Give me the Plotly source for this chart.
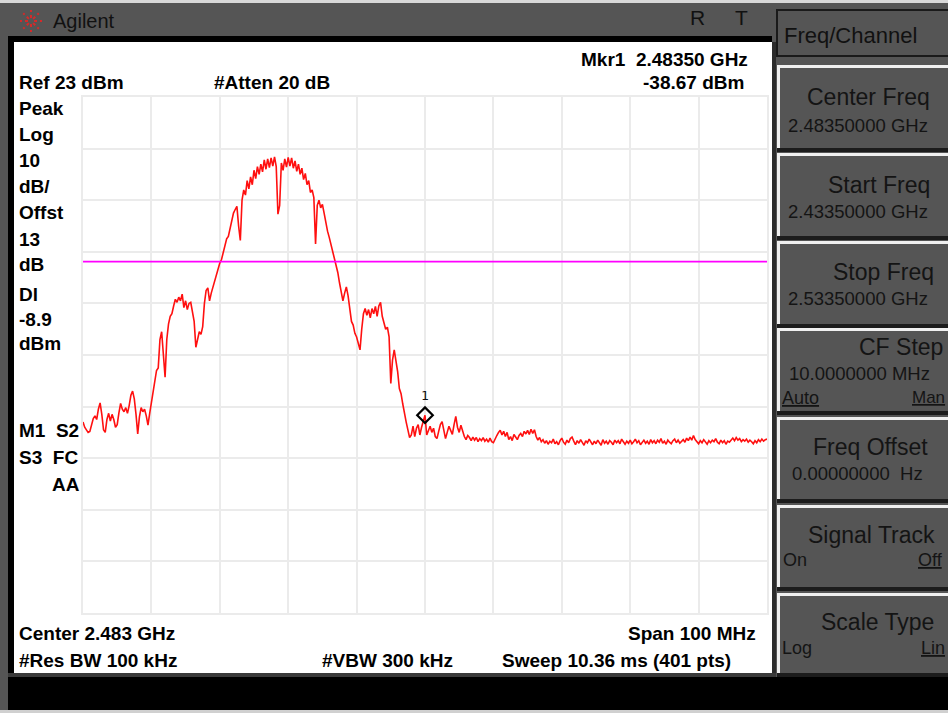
import numpy as np
import plotly.graph_objects as go

START_GHZ = 2.4335
STOP_GHZ = 2.5335
REF_DBM = 23
DB_PER_DIV = 10
N_DIV = 10
DISPLAY_LINE_DBM = -8.9
MKR_FREQ_GHZ = 2.4835
MKR_LEVEL_DBM = -38.67

# trace 1, 401 sweep points (dBm)
level_dbm = [
    -40.0, -41.0, -41.5, -42.0, -41.8, -40.5, -39.3, -38.8, -39.5, -37.5,
    -36.3, -38.5, -41.5, -42.0, -39.5, -38.3, -39.8, -38.5, -39.5, -41.0,
    -40.5, -38.2, -36.4, -37.5, -38.0, -37.2, -38.3, -36.8, -34.8, -34.0,
    -35.5, -38.5, -42.3, -39.0, -37.2, -38.0, -37.5, -38.8, -40.6, -38.3,
    -36.0, -34.0, -32.0, -30.0, -29.5, -24.0, -22.5, -27.5, -31.3, -24.0,
    -21.0, -19.5, -19.0, -17.5, -16.2, -16.8, -15.8, -16.5, -15.2, -17.8,
    -16.5, -18.2, -17.0, -16.8, -19.0, -20.5, -25.5, -24.0, -22.5, -23.0,
    -21.5, -17.0, -14.5, -14.0, -16.5, -15.0, -13.8, -12.5, -11.8, -10.5,
    -9.2, -8.5, -7.2, -6.0, -4.5, -4.0, -2.5, -0.8, 0.5, 1.2,
    1.8, -2.0, -4.8, 3.0, 5.0, 4.0, 6.8, 5.2, 7.5, 6.0,
    8.8, 7.2, 9.5, 8.0, 10.0, 8.5, 10.8, 9.0, 11.0, 9.3,
    11.2, 9.6, 11.4, 9.5, 0.3, 2.0, 10.2, 8.8, 11.0, 9.4,
    11.3, 9.6, 11.2, 9.2, 10.6, 8.6, 10.0, 8.0, 9.2, 7.0,
    8.2, 6.0, 6.8, 4.5, 5.0, 3.5, -5.5, 2.0, 3.0, 1.5,
    2.2, 0.5, -1.5, -3.0, -4.2, -5.5, -7.2, -8.5, -9.8, -11.0,
    -13.0, -14.5, -16.5, -15.0, -13.8, -15.5, -18.0, -20.5, -21.2, -22.8,
    -23.5, -24.8, -26.0, -22.0, -19.0, -18.0, -19.3, -18.2, -19.8, -18.0,
    -19.0, -17.6, -19.5, -17.5, -16.8, -19.5, -20.8, -22.0, -21.6, -23.5,
    -32.5, -28.0, -26.0, -27.8, -30.2, -33.5, -34.5, -36.5, -38.5, -40.0,
    -41.5, -43.0, -42.5, -40.8, -42.8, -41.2, -40.5, -42.5, -41.0, -39.5,
    -38.67, -42.5, -41.5, -40.8, -42.0, -41.2, -42.8, -43.2, -41.8, -40.5,
    -39.9, -42.0, -43.2, -42.0, -40.8, -41.6, -42.4, -40.5, -38.9, -41.0,
    -42.0, -40.6, -41.8, -42.8, -43.4, -42.6, -43.0, -43.6, -42.9, -43.5,
    -43.0, -43.8, -43.2, -43.6, -43.0, -43.7, -43.3, -43.9, -43.1, -43.8,
    -44.0, -43.2, -42.6, -42.0, -41.6, -42.5, -41.8, -42.8, -42.0, -43.4,
    -42.8, -43.6, -42.4, -42.9, -43.4, -42.6, -42.2, -42.8, -41.8, -42.3,
    -41.6, -42.4, -41.4, -42.2, -41.5, -42.8, -43.5, -43.0, -43.8, -43.4,
    -44.1, -43.6, -44.3, -43.7, -44.0, -43.3, -44.2, -43.8, -44.4, -43.6,
    -43.1, -43.9, -44.3, -43.5, -44.0, -43.2, -42.9, -43.7, -44.4, -43.6,
    -44.1, -43.4, -43.9, -44.5, -43.6, -44.0, -43.3, -43.9, -44.4, -43.7,
    -44.2, -43.5, -43.9, -44.5, -43.4, -44.1, -43.7, -44.3, -43.6, -43.9,
    -44.4, -43.5, -44.0, -43.6, -44.2, -43.3, -43.8, -44.3, -43.7, -44.1,
    -43.5, -44.2, -43.8, -43.3, -44.0, -43.6, -44.4, -43.9, -43.5, -44.1,
    -43.7, -44.3, -43.4, -44.0, -43.6, -44.2, -43.5, -43.9, -43.2, -44.1,
    -43.7, -44.3, -43.5, -43.9, -44.2, -43.6, -43.3, -44.0, -43.5, -44.1,
    -43.8, -43.4, -43.9, -43.1, -43.6, -42.9, -43.5, -42.6, -43.4, -43.8,
    -44.2, -43.6, -44.0, -43.4, -43.9, -44.3, -43.6, -44.0, -43.5, -43.8,
    -43.2, -43.9, -44.2, -43.5, -44.0, -43.6, -44.3, -43.7, -43.9, -43.4,
    -43.1, -43.6, -43.0, -43.5, -43.2, -43.8, -43.4, -43.7, -43.3, -43.9,
    -43.5, -43.8, -44.2, -43.6, -44.0, -43.4, -43.8, -43.3, -43.7, -43.4,
    -43.3,
]
freq_ghz = np.linspace(START_GHZ, STOP_GHZ, len(level_dbm))

left_labels = [("Peak", 108), ("Log", 134), ("10", 160), ("dB/", 186),
               ("Offst", 213), ("13", 239), ("dB", 264), ("Dl", 294),
               ("-8.9", 319), ("dBm", 343), ("M1  S2", 430), ("S3  FC", 457)]

# ---------------- geometry helpers ----------------
W, H = 948, 713
L, R, T, B = 83, 767, 97, 613


def px(x):
    return (x - L) / (R - L)


def py(y):
    return (B - y) / (B - T)


shapes = []
annotations = []


def rect(x0, y0, x1, y1, fill, line=None, lw=0, layer="below"):
    shapes.append(dict(type="rect", xref="paper", yref="paper",
                       x0=px(x0), x1=px(x1), y0=py(y1), y1=py(y0),
                       fillcolor=fill, layer=layer,
                       line=dict(width=lw, color=line or fill)))


def seg(x0, y0, x1, y1, color, w, dash="solid", layer="above"):
    shapes.append(dict(type="line", xref="paper", yref="paper",
                       x0=px(x0), x1=px(x1), y0=py(y0), y1=py(y1),
                       line=dict(color=color, width=w, dash=dash), layer=layer))


SCR_FONT = "Liberation Sans, Arial, sans-serif"


def txt(s, x, y, size=19, anchor="left", color="#000000", bold=True, family=SCR_FONT):
    annotations.append(dict(
        text=("<b>%s</b>" % s) if bold else s,
        x=px(x), y=py(y), xref="paper", yref="paper",
        xanchor=anchor, yanchor="middle", showarrow=False,
        font=dict(size=size, color=color, family=family), borderpad=0))


# ---------------- frame ----------------
rect(0, 0, W, 3, "#d8d8d8")
rect(8, 36, 772, 42, "#000000")
rect(8, 36, 14, 677, "#000000")
rect(14, 42, 772, 673, "#ffffff")
rect(772, 42, 776, 677, "#2b2b2b")
rect(8, 673, 776, 677, "#3a3a3a")
rect(8, 677, W, 710, "#000000")
rect(0, 710, W, H, "#d0d0d0")

# logo: red dotted starburst
cx, cy = 31, 21
for k in range(8):
    a = np.pi * k / 4
    seg(cx + 3 * np.cos(a), cy + 3 * np.sin(a), cx + 11 * np.cos(a), cy + 11 * np.sin(a),
        "#d42a2a", 2, dash="dot")

txt("Agilent", 52, 21, size=20, bold=False, color="#111111")
txt("R", 697, 18, size=21, anchor="center", bold=False, color="#111111")
txt("T", 741, 18, size=21, anchor="center", bold=False, color="#111111")

# ---------------- right soft-key panel ----------------
rect(777, 10, 960, 56, "#555555", line="#1a1a1a", lw=2)
txt("Freq/Channel", 783, 35, size=22, bold=False, color="#111111")

buttons = [(65, 148), (153, 236), (241, 324), (328, 411), (417, 499), (505, 587), (593, 673)]
for (y0, y1) in buttons:
    rect(777, y0, 960, y1, "#555555")
    rect(777, y0, 960, y0 + 3, "#f0f0f0")
    rect(777, y0, 780, y1, "#f0f0f0")
    rect(777, y1, 960, y1 + 4, "#1c1c1c")

PF = "Liberation Sans, Arial, sans-serif"
PC = "#141414"
txt("Center Freq", 931, 97, size=23, anchor="right", bold=False, color=PC, family=PF)
txt("2.48350000 GHz", 787, 125, size=18.5, bold=False, color=PC, family=PF)
txt("Start Freq", 931, 185, size=23, anchor="right", bold=False, color=PC, family=PF)
txt("2.43350000 GHz", 787, 212, size=18.5, bold=False, color=PC, family=PF)
txt("Stop Freq", 935, 272, size=23, anchor="right", bold=False, color=PC, family=PF)
txt("2.53350000 GHz", 787, 298, size=18.5, bold=False, color=PC, family=PF)
txt("CF Step", 944, 347, size=23, anchor="right", bold=False, color=PC, family=PF)
txt("10.0000000 MHz", 788, 373, size=18.5, bold=False, color=PC, family=PF)
txt("<u>Auto</u>", 781, 398, size=18, bold=False, color=PC, family=PF)
txt("<u>Man</u>", 946, 398, size=17, anchor="right", bold=False, color=PC, family=PF)
txt("Freq Offset", 929, 447, size=23, anchor="right", bold=False, color=PC, family=PF)
txt("0.00000000  Hz", 791, 473, size=18.5, bold=False, color=PC, family=PF)
txt("Signal Track", 936, 535, size=23, anchor="right", bold=False, color=PC, family=PF)
txt("On", 782, 560, size=18, bold=False, color=PC, family=PF)
txt("<u>Off</u>", 944, 560, size=18, anchor="right", bold=False, color=PC, family=PF)
txt("Scale Type", 935, 622, size=23, anchor="right", bold=False, color=PC, family=PF)
txt("Log", 781, 648, size=18, bold=False, color=PC, family=PF)
txt("<u>Lin</u>", 946, 648, size=18, anchor="right", bold=False, color=PC, family=PF)

# ---------------- screen annotations ----------------
txt("Mkr1  2.48350 GHz", 749, 59, anchor="right")
txt("%.2f dBm" % MKR_LEVEL_DBM, 745, 83, anchor="right")
txt("Ref %d dBm" % REF_DBM, 18, 83)
txt("#Atten 20 dB", 213, 83)
for s, yy in left_labels:
    txt(s, 18, yy)
txt("AA", 51, 484)
txt("Center 2.483 GHz", 18, 633)
txt("Span 100 MHz", 757, 633, anchor="right")
txt("#Res BW 100 kHz", 18, 660)
txt("#VBW 300 kHz", 321, 660)
txt("Sweep 10.36 ms (401 pts)", 501, 660)

# display line
shapes.append(dict(type="line", xref="paper", yref="y", x0=0, x1=1,
                   y0=DISPLAY_LINE_DBM, y1=DISPLAY_LINE_DBM,
                   line=dict(color="#ff00ff", width=1.6), layer="above"))

# marker label
annotations.append(dict(text="1", x=MKR_FREQ_GHZ, y=MKR_LEVEL_DBM, xref="x", yref="y",
                        yshift=20, showarrow=False,
                        font=dict(size=13, color="#111111", family="DejaVu Sans Mono")))

# ---------------- traces ----------------
fig = go.Figure()
fig.add_trace(go.Scatter(x=freq_ghz, y=level_dbm, mode="lines",
                         line=dict(color="#ff1010", width=1.6), hoverinfo="skip"))
fig.add_trace(go.Scatter(x=[MKR_FREQ_GHZ], y=[MKR_LEVEL_DBM], mode="markers",
                         marker=dict(symbol="diamond-open", size=12, color="#000000",
                                     line=dict(width=2.2, color="#000000")),
                         hoverinfo="skip"))

fig.update_layout(
    width=W, height=H,
    margin=dict(l=L, r=W - R, t=T, b=H - B, autoexpand=False),
    paper_bgcolor="#555555",
    plot_bgcolor="#ffffff",
    showlegend=False,
    shapes=shapes,
    annotations=annotations,
    xaxis=dict(range=[START_GHZ, STOP_GHZ], tick0=START_GHZ, dtick=(STOP_GHZ - START_GHZ) / N_DIV,
               showticklabels=False, ticks="", showgrid=True, gridcolor="#ebebeb", gridwidth=2,
               zeroline=False, showline=True, mirror=True, linecolor="#ebebeb", linewidth=2,
               fixedrange=True),
    yaxis=dict(range=[REF_DBM - N_DIV * DB_PER_DIV, REF_DBM], tick0=REF_DBM, dtick=DB_PER_DIV,
               showticklabels=False, ticks="", showgrid=True, gridcolor="#ebebeb", gridwidth=2,
               zeroline=False, showline=True, mirror=True, linecolor="#ebebeb", linewidth=2,
               fixedrange=True),
)

fig.write_html("out.html", config={"displayModeBar": False},
               post_script="document.body.style.margin='0';document.body.style.overflow='hidden';")
